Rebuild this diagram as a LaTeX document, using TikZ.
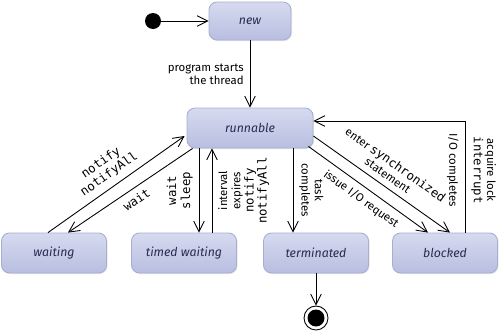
\documentclass[tikz,border=0pt]{standalone}
\usepackage{fontspec}
\setmainfont{Fira Sans}
\setmonofont{DejaVu Sans Mono}
\usetikzlibrary{arrows.meta,calc,shadows}
\definecolor{statetop}{RGB}{214,218,240}
\definecolor{statebot}{RGB}{184,190,224}
\definecolor{stateline}{RGB}{168,174,210}
\definecolor{statetext}{RGB}{40,44,82}
\newcommand{\lbl}{\fontsize{6.5}{7.5}\selectfont}
\newcommand{\mono}{\ttfamily\fontsize{7}{8}\selectfont}
\newcommand{\kw}[1]{{\mono #1}}

\begin{document}
\begin{tikzpicture}[x=0.02cm,y=-0.02cm,line width=0.5pt,
  state/.style={rounded corners=4.5pt,top color=statetop,bottom color=statebot,draw=stateline,
    minimum width=2.1cm,minimum height=0.8cm,font=\fontsize{7}{8}\selectfont\itshape,text=statetext,
    drop shadow={opacity=0.2,shadow xshift=0.6pt,shadow yshift=-0.6pt}},
  tr/.style={-{Straight Barb[length=6pt,width=6pt]}},
  rtr/.style={{Straight Barb[length=6pt,width=6pt]}-}]
\useasboundingbox (0,0) rectangle (500,332);

% states
\node[state,minimum width=1.64cm,minimum height=0.76cm] (new) at (250,21) {new};
\node[state,minimum width=2.52cm] (runnable) at (250,128) {runnable};
\node[state] (waiting) at (54,253) {waiting};
\node[state] (timed) at (184,253) {timed waiting};
\node[state] (terminated) at (316,253) {terminated};
\node[state] (blocked) at (445,253) {blocked};
\node[circle,fill=black,minimum size=0.32cm,inner sep=0pt] (init) at (153,21) {};
\node[circle,draw,minimum size=0.48cm,inner sep=0pt] (final) at (316,318) {};
\node[circle,fill=black,minimum size=0.34cm,inner sep=0pt] (finaldot) at (final) {};

\coordinate (tsin) at ($(timed.north)+(15,0)$);
\coordinate (tsout) at ($(timed.north)+(28,0)$);
\coordinate (tcin) at ($(terminated.north)+(-23,0)$);

% transitions
\draw[tr] (init) -- (new);
\draw[tr] (new) -- node[left,align=right,font=\lbl]{program starts\\the thread} (runnable);
\draw[tr] ($(waiting.north)+(-6,0)$) -- node[sloped,above,align=center,font=\mono]{notify\\notifyAll} ($(runnable.west)+(-2,8)$);
\draw[rtr] ($(waiting.north)+(14,0)$) -- node[sloped,below,font=\mono]{wait} ($(runnable.south west)+(6,0)$);
\draw[tr] (runnable.south -| tsin) -- node[rotate=90,anchor=south,align=center,font=\mono]{wait\\sleep} (tsin);
\draw[tr] (tsout) -- node[rotate=90,anchor=north,align=center,font=\lbl]{interval\\expires\\\kw{notify}\\\kw{notifyAll}} (runnable.south -| tsout);
\draw[tr] (runnable.south -| tcin) -- node[rotate=-90,anchor=south,align=center,font=\lbl]{task\\completes} (tcin);
\draw[tr] (terminated) -- (final);
\draw[tr] ($(runnable.south east)+(-5,-2)$) -- node[sloped,below,font=\lbl]{issue I/O request} ($(blocked.north)+(-17,0)$);
\draw[tr] ($(runnable.east)+(0,8)$) -- node[sloped,above,align=center,font=\lbl]{enter \kw{synchronized}\\statement} ($(blocked.north)+(5,0)$);
\draw[tr] ($(blocked.north)+(20,0)$) |- node[pos=.28,rotate=-90,anchor=north,font=\lbl]{I/O completes}
  node[pos=.28,rotate=-90,anchor=south,align=center,font=\lbl]{acquire lock\\\kw{interrupt}} ($(runnable.east)+(0,-7)$);
\end{tikzpicture}
\end{document}
